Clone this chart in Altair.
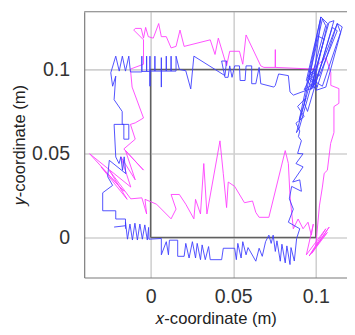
import altair as alt
import pandas as pd

# ---- data (metres) ----
blue_x = [-0.0221, -0.0152, -0.0152, -0.0140, -0.0125, -0.0110, -0.0095, -0.0080, -0.0065, -0.0050,
          -0.0035, -0.0020, -0.0012, -0.0010, 0.0065, 0.0065, 0.0095, 0.0108, 0.0114, 0.0164,
          0.0164, 0.0203, 0.0213, 0.0233, 0.0253, 0.0272, 0.0282, 0.0302, 0.0312, 0.0331,
          0.0351, 0.0361, 0.0430, 0.0440, 0.0509, 0.0519, 0.0528, 0.0548, 0.0558, 0.0578,
          0.0590, 0.0637, 0.0657, 0.0676, 0.0696, 0.0716, 0.0730, 0.0742, 0.0755, 0.0765,
          0.0785, 0.0795, 0.0815, 0.0825, 0.0844, 0.0850, 0.0870, 0.0884, 0.0903, 0.0834,
          0.0864, 0.0840, 0.0854, 0.0913, 0.0903, 0.0860, 0.0923, 0.0880, 0.0923, 0.0890,
          0.0913, 0.0895, 0.0903, 0.0880, 0.0930, 0.0890, 0.0940, 0.0900, 0.1031, 0.1071,
          0.0982, 0.0943, 0.1031, 0.0982, 0.1130, 0.1160, 0.1061, 0.1002, 0.1130, 0.1150,
          0.1040, 0.0960, 0.1040, 0.1060, 0.0883, 0.0900, 0.1080, 0.1110, 0.0950, 0.0930,
          0.1010, 0.1050, 0.0970, 0.1000, 0.1100, 0.1130, 0.1020, 0.0960, 0.1000, 0.0930,
          0.0990, 0.0950, 0.1010, 0.0864,
          0.0844, 0.0834, 0.0775, 0.0755, 0.0746, 0.0667, 0.0657, 0.0637, 0.0612, 0.0612,
          0.0578, 0.0572, 0.0542, 0.0538, 0.0509, 0.0493, 0.0479, 0.0469, 0.0450, 0.0430,
          0.0460, 0.0450, 0.0262, 0.0243, 0.0213, 0.0174, 0.0154, 0.0154, 0.0124, 0.0124,
          0.0124, 0.0095, 0.0095, 0.0095, 0.0065, 0.0065, 0.0065, 0.0065, 0.0026, 0.0026,
          0.0026, -0.0004, -0.0004, -0.0004, -0.0004, -0.0024, -0.0024, -0.0024, -0.0053, -0.0053,
          -0.0053, -0.0122, -0.0132, -0.0152, -0.0171, -0.0190, -0.0211, -0.0241, -0.0230, -0.0211,
          -0.0221, -0.0172, -0.0172, -0.0132, -0.0132, -0.0162, -0.0162, -0.0221, -0.0211, -0.0191,
          -0.0180, -0.0170, -0.0160, -0.0150, -0.0250, -0.0260, -0.0230, -0.0290, -0.0290, -0.0211,
          -0.0211, -0.0152, -0.0152]
blue_y = [0.0062, 0.0070, 0.0093, -0.0010, 0.0080, -0.0015, 0.0085, -0.0015, 0.0080, -0.0010,
          0.0075, -0.0015, 0.0060, -0.0010, -0.0006, -0.0103, -0.0025, -0.0103, -0.0016, -0.0016,
          -0.0112, -0.0112, -0.0035, -0.0122, -0.0025, -0.0122, -0.0035, -0.0132, -0.0044, -0.0132,
          -0.0054, -0.0132, -0.0132, -0.0064, -0.0064, -0.0132, -0.0035, -0.0122, -0.0025, -0.0103,
          -0.0060, -0.0141, -0.0064, -0.0112, -0.0025, 0.0014, -0.0035, 0.0014, -0.0083, -0.0020,
          -0.0141, -0.0040, -0.0151, -0.0050, -0.0161, -0.0060, -0.0140, -0.0006, 0.0052, 0.0091,
          0.0169, 0.0230, 0.0304, 0.0275, 0.0343, 0.0330, 0.0420, 0.0440, 0.0498, 0.0500,
          0.0576, 0.0600, 0.0634, 0.0680, 0.0720, 0.0780, 0.0830, 0.0700, 0.1312, 0.1273,
          0.0895, 0.0934, 0.1312, 0.0895, 0.1273, 0.1253, 0.0895, 0.0876, 0.1273, 0.1220,
          0.0900, 0.0950, 0.1300, 0.1260, 0.0624, 0.0650, 0.1280, 0.1290, 0.0750, 0.0800,
          0.1200, 0.1180, 0.0880, 0.0920, 0.1250, 0.1230, 0.0960, 0.0990, 0.0920, 0.0880,
          0.1000, 0.0950, 0.0900, 0.0847,
          0.0866, 0.0963, 0.0973, 0.0905, 0.0895, 0.0915, 0.1012, 0.0915, 0.0915, 0.1021,
          0.1021, 0.0934, 0.0934, 0.1021, 0.1021, 0.0953, 0.1021, 0.0953, 0.0953, 0.1050,
          0.1050, 0.0963, 0.1079, 0.0884, 0.0992, 0.1000, 0.1079, 0.0990, 0.0990, 0.1079,
          0.0990, 0.0990, 0.1079, 0.0990, 0.0990, 0.1070, 0.0895, 0.0990, 0.0990, 0.1079,
          0.0990, 0.0990, 0.1079, 0.0900, 0.0988, 0.0988, 0.1079, 0.0988, 0.0988, 0.1079,
          0.0985, 0.0985, 0.1079, 0.0990, 0.1079, 0.0990, 0.1079, 0.0980, 0.0900, 0.0960,
          0.0820, 0.0750, 0.0673, 0.0673, 0.0585, 0.0585, 0.0673, 0.0673, 0.0479, 0.0440,
          0.0480, 0.0400, 0.0480, 0.0380, 0.0459, 0.0362, 0.0310, 0.0266, 0.0159, 0.0159,
          0.0110, 0.0110, 0.0052]

magenta_x = [0.0982, 0.0755, 0.0755, 0.0755, 0.0686, 0.0667, 0.0578, 0.0558, 0.0538, 0.0479,
             0.0460, 0.0410, 0.0390, 0.0361, 0.0203, 0.0178, 0.0154, 0.0124, 0.0095, 0.0065,
             0.0049, 0.0016, -0.0014, -0.0030, -0.0043, -0.0057, -0.0093, -0.0102, -0.0043, -0.0043,
             -0.0122, -0.0112, -0.0043, -0.0093, -0.0122, -0.0093, -0.0162, -0.0043, -0.0152, -0.0093,
             -0.0180, -0.0120, -0.0369, -0.0162, -0.0300, -0.0142, -0.0250, -0.0120, -0.0053, -0.0024,
             -0.0034, 0.0036, 0.0124, 0.0154, 0.0124, 0.0174, 0.0213, 0.0262, 0.0272, 0.0302,
             0.0322, 0.0341, 0.0420, 0.0440, 0.0460, 0.0470, 0.0509, 0.0568, 0.0617, 0.0637,
             0.0657, 0.0716, 0.0815, 0.0834, 0.0844, 0.0864, 0.0893, 0.0923, 0.0953, 0.0973,
             0.0985, 0.0943, 0.1061, 0.0960, 0.1081, 0.0975, 0.1070, 0.1000, 0.1022, 0.1040,
             0.1051, 0.1070, 0.1090, 0.1110, 0.1110, 0.1140, 0.1140, 0.1091, 0.1091, 0.1061,
             0.0982]
magenta_y = [0.1002, 0.1012, 0.1118, 0.1012, 0.1012, 0.1021, 0.1205, 0.1031, 0.1108, 0.1108,
             0.1021, 0.1186, 0.1089, 0.1176, 0.1137, 0.1234, 0.1137, 0.1128, 0.1195, 0.1195,
             0.1273, 0.1186, 0.1195, 0.1250, 0.1186, 0.1244, 0.1244, 0.1234, 0.1176, 0.1031,
             0.1002, 0.0895, 0.0711, 0.0682, 0.0673, 0.0585, 0.0527, 0.0401, 0.0517, 0.0343,
             0.0480, 0.0300, 0.0498, 0.0275, 0.0420, 0.0227, 0.0400, 0.0230, 0.0236, 0.0140,
             0.0227, 0.0198, 0.0111, 0.0169, 0.0256, 0.0256, 0.0198, 0.0111, 0.0227, 0.0140,
             0.0440, 0.0140, 0.0575, 0.0380, 0.0178, 0.0330, 0.0304, 0.0207, 0.0217, 0.0149,
             0.0120, 0.0120, 0.0517, 0.0440, 0.0246, 0.0052, 0.0110, 0.0052, 0.0091, 0.0014,
             0.0080, -0.0103, 0.0052, -0.0110, 0.0062, -0.0095, 0.0030, -0.0050, 0.0188, 0.0300,
             0.0382, 0.0400, 0.0560, 0.0624, 0.0779, 0.0798, 0.0886, 0.0905, 0.0983, 0.1070,
             0.1002]

square_x = [0.0, 0.1, 0.1, 0.0, 0.0]
square_y = [0.0, 0.0, 0.1, 0.1, 0.0]

tick_values = [0, 0.05, 0.1]
x_domain = [-0.0402, 0.1189]
y_domain = [-0.0238, 0.1343]


def frame(xs, ys):
    return pd.DataFrame({"x": xs, "y": ys, "i": list(range(len(xs)))})


FONT = "Liberation Sans"
xs = alt.Scale(domain=x_domain, nice=False, zero=False)
ys = alt.Scale(domain=y_domain, nice=False, zero=False)

x_axis = alt.Axis(values=tick_values, format="~g", title="𝑥-coordinate (m)",
                  grid=True, gridColor="#d0d0d0", gridWidth=1.6,
                  domainColor="#7a7a7a", domainWidth=1.2, ticks=False,
                  labelFontSize=20, labelColor="#333333", labelFont=FONT, labelPadding=10,
                  titleFontSize=17, titleFontWeight="normal", titleColor="#222222",
                  titleFont=FONT, titlePadding=4)
y_axis = alt.Axis(values=tick_values, format="~g", title="𝑦-coordinate (m)",
                  grid=True, gridColor="#d0d0d0", gridWidth=1.6,
                  domainColor="#7a7a7a", domainWidth=1.2, ticks=False,
                  labelFontSize=20, labelColor="#333333", labelFont=FONT, labelPadding=15,
                  titleFontSize=17, titleFontWeight="normal", titleColor="#222222",
                  titleFont=FONT, titlePadding=3)

base_sq = alt.Chart(frame(square_x, square_y)).mark_line(
    color="#606060", strokeWidth=1.5
).encode(
    x=alt.X("x:Q", scale=xs, axis=x_axis),
    y=alt.Y("y:Q", scale=ys, axis=y_axis),
    order="i:Q",
)

blue = alt.Chart(frame(blue_x, blue_y)).mark_line(
    color="#3c3cff", strokeWidth=1, opacity=0.9, clip=True
).encode(x=alt.X("x:Q", scale=xs), y=alt.Y("y:Q", scale=ys), order="i:Q")

magenta = alt.Chart(frame(magenta_x, magenta_y)).mark_line(
    color="#ff3cff", strokeWidth=1, opacity=0.9, clip=True
).encode(x=alt.X("x:Q", scale=xs), y=alt.Y("y:Q", scale=ys), order="i:Q")

top_border = alt.Chart(pd.DataFrame({"a": [0]})).mark_rule(
    color="#7a7a7a", strokeWidth=1.2
).encode(y=alt.datum(y_domain[1], scale=ys))

chart = alt.layer(base_sq, magenta, blue, top_border).properties(
    width=269, height=272,
    autosize=alt.AutoSizeParams(type="none"),
    padding={"left": 78, "top": 0, "right": 0, "bottom": 55},
).configure_view(stroke=None)

chart.save("out.html", embed_options={"renderer": "svg", "actions": False})
